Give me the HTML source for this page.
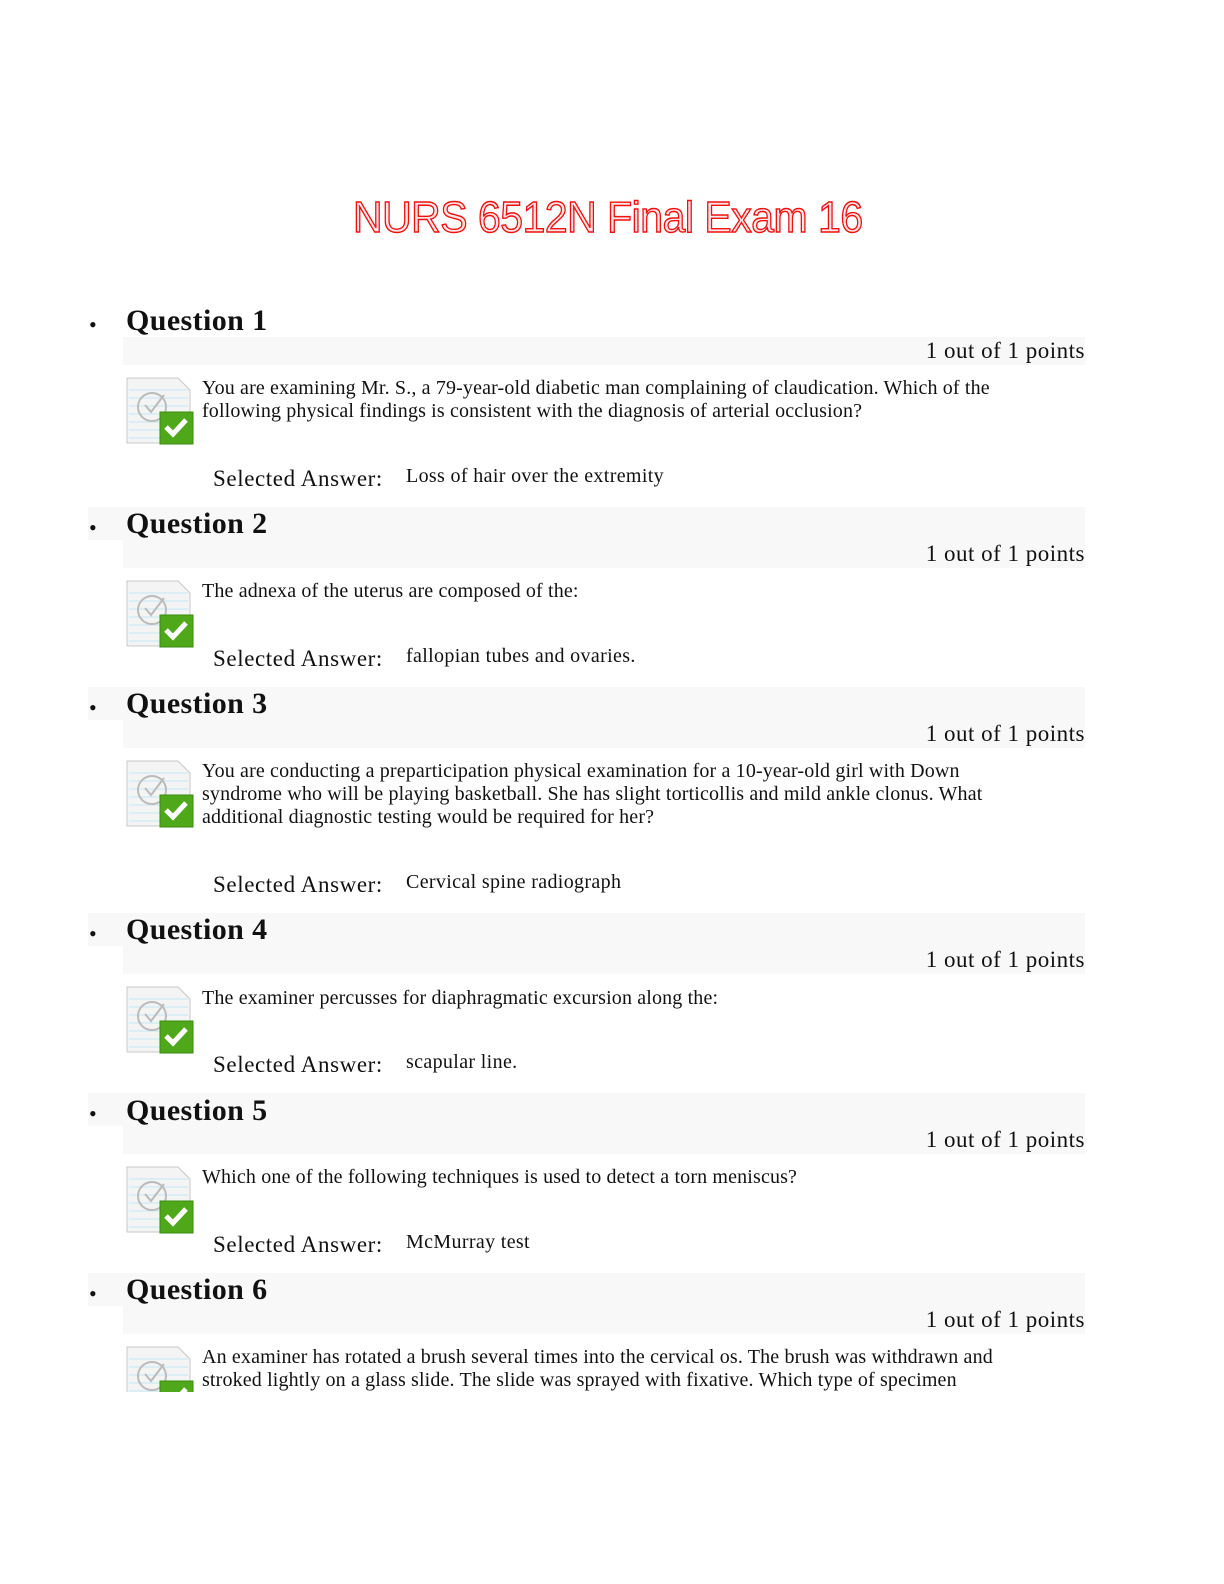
<!DOCTYPE html>
<html><head><meta charset="utf-8"><style>
body{margin:0;width:1224px;height:1584px;background:#fff;position:relative;overflow:hidden;font-family:"Liberation Serif",serif;color:#111}
.a{position:absolute;white-space:nowrap}
.band{position:absolute;background:#f8f8f8}
.h{font-weight:bold;font-size:30px;letter-spacing:0.4px}
.p{font-size:23px;right:139px;letter-spacing:0.5px}
.t{font-size:20px;line-height:23px;left:202px;letter-spacing:0.15px}
.sl{font-size:23px;left:213px;letter-spacing:0.6px}
.sa{font-size:20px;left:406px;letter-spacing:0.35px}
.bul{left:89px;font-size:22px}
.title{left:353px;top:193px;font-family:"Liberation Sans",sans-serif;font-size:44px;color:#ffe6e6;-webkit-text-stroke:1.4px #f01010;transform:scaleX(0.93);transform-origin:left top;letter-spacing:-0.5px}
</style></head><body>
<div class="a title">NURS 6512N Final Exam 16</div>

<svg width="0" height="0" style="position:absolute"><defs>
<symbol id="ic" viewBox="0 0 68 68">
<path d="M1 1 H52 L64 13 V66 H1 Z" fill="#f4f4f4" stroke="#c8c8c8"/>
<g stroke="#cdeaf5" stroke-width="1.2"><line x1="3" y1="13" x2="62" y2="13"/><line x1="3" y1="21" x2="62" y2="21"/><line x1="3" y1="29" x2="62" y2="29"/><line x1="3" y1="37" x2="62" y2="37"/><line x1="3" y1="45" x2="62" y2="45"/><line x1="3" y1="53" x2="62" y2="53"/><line x1="3" y1="61" x2="62" y2="61"/></g>
<circle cx="26" cy="30" r="14" fill="none" stroke="#bbb" stroke-width="2"/>
<path d="M19 28 L25 35 L38 18" fill="none" stroke="#bbb" stroke-width="2"/>
<rect x="34" y="35" width="33" height="32" fill="#4ea81a" stroke="#3a8a10"/>
<path d="M40 50 L47 57 L60 43" fill="none" stroke="#fff" stroke-width="5"/>
</symbol></defs></svg>

<!-- Q1 -->
<div class="a bul" style="top:312px">•</div>
<div class="a h" style="left:126px;top:304px">Question 1</div>
<div class="band" style="left:123px;top:337px;width:962px;height:28px"></div>
<div class="a p" style="top:338px">1 out of 1 points</div>
<svg class="a" style="left:126px;top:377px" width="68" height="68"><use href="#ic"/></svg>
<div class="a t" style="top:377px">You are examining Mr. S., a 79-year-old diabetic man complaining of claudication. Which of the<br>following physical findings is consistent with the diagnosis of arterial occlusion?</div>
<div class="a sl" style="top:466px">Selected Answer:</div>
<div class="a sa" style="top:465px">Loss of hair over the extremity</div>

<!-- Q2 -->
<div class="band" style="left:88px;top:507px;width:997px;height:33px"></div>
<div class="band" style="left:123px;top:540px;width:962px;height:28px"></div>
<div class="a bul" style="top:515px">•</div>
<div class="a h" style="left:126px;top:507px">Question 2</div>
<div class="a p" style="top:541px">1 out of 1 points</div>
<svg class="a" style="left:126px;top:580px" width="68" height="68"><use href="#ic"/></svg>
<div class="a t" style="top:580px">The adnexa of the uterus are composed of the:</div>
<div class="a sl" style="top:646px">Selected Answer:</div>
<div class="a sa" style="top:645px">fallopian tubes and ovaries.</div>

<!-- Q3 -->
<div class="band" style="left:88px;top:687px;width:997px;height:33px"></div>
<div class="band" style="left:123px;top:720px;width:962px;height:28px"></div>
<div class="a bul" style="top:695px">•</div>
<div class="a h" style="left:126px;top:687px">Question 3</div>
<div class="a p" style="top:721px">1 out of 1 points</div>
<svg class="a" style="left:126px;top:760px" width="68" height="68"><use href="#ic"/></svg>
<div class="a t" style="top:760px">You are conducting a preparticipation physical examination for a 10-year-old girl with Down<br>syndrome who will be playing basketball. She has slight torticollis and mild ankle clonus. What<br>additional diagnostic testing would be required for her?</div>
<div class="a sl" style="top:872px">Selected Answer:</div>
<div class="a sa" style="top:871px">Cervical spine radiograph</div>

<!-- Q4 -->
<div class="band" style="left:88px;top:913px;width:997px;height:33px"></div>
<div class="band" style="left:123px;top:946px;width:962px;height:28px"></div>
<div class="a bul" style="top:921px">•</div>
<div class="a h" style="left:126px;top:913px">Question 4</div>
<div class="a p" style="top:947px">1 out of 1 points</div>
<svg class="a" style="left:126px;top:986px" width="68" height="68"><use href="#ic"/></svg>
<div class="a t" style="top:987px">The examiner percusses for diaphragmatic excursion along the:</div>
<div class="a sl" style="top:1052px">Selected Answer:</div>
<div class="a sa" style="top:1051px">scapular line.</div>

<!-- Q5 -->
<div class="band" style="left:88px;top:1093px;width:997px;height:33px"></div>
<div class="band" style="left:123px;top:1126px;width:962px;height:28px"></div>
<div class="a bul" style="top:1101px">•</div>
<div class="a h" style="left:126px;top:1094px">Question 5</div>
<div class="a p" style="top:1127px">1 out of 1 points</div>
<svg class="a" style="left:126px;top:1166px" width="68" height="68"><use href="#ic"/></svg>
<div class="a t" style="top:1166px">Which one of the following techniques is used to detect a torn meniscus?</div>
<div class="a sl" style="top:1232px">Selected Answer:</div>
<div class="a sa" style="top:1231px">McMurray test</div>

<!-- Q6 -->
<div class="band" style="left:88px;top:1273px;width:997px;height:33px"></div>
<div class="band" style="left:123px;top:1306px;width:962px;height:28px"></div>
<div class="a bul" style="top:1281px">•</div>
<div class="a h" style="left:126px;top:1273px">Question 6</div>
<div class="a p" style="top:1307px">1 out of 1 points</div>
<div class="a" style="left:126px;top:1346px;width:68px;height:46px;overflow:hidden"><svg width="68" height="68"><use href="#ic"/></svg></div>
<div class="a t" style="top:1346px">An examiner has rotated a brush several times into the cervical os. The brush was withdrawn and<br>stroked lightly on a glass slide. The slide was sprayed with fixative. Which type of specimen</div>
</body></html>
